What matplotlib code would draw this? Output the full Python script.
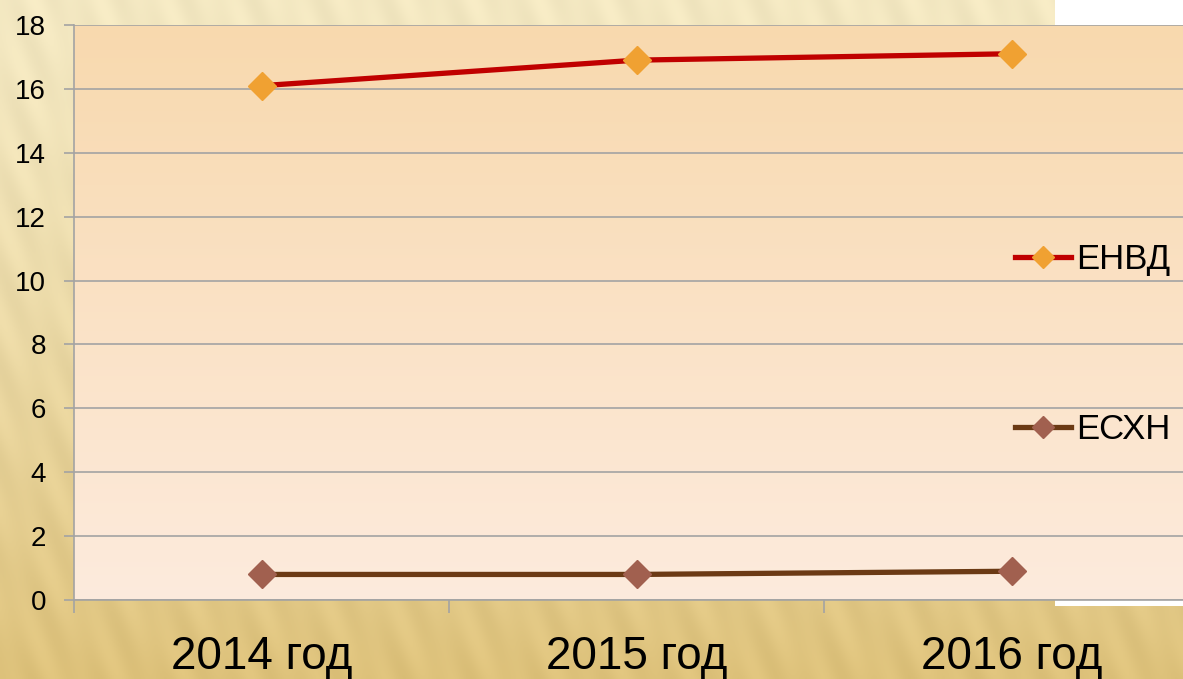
import numpy as np
import matplotlib.pyplot as plt
from matplotlib.colors import LinearSegmentedColormap
from matplotlib.patches import Rectangle

plt.rcParams['font.family'] = ['Liberation Sans', 'DejaVu Sans']

# data
years = ["2014 год", "2015 год", "2016 год"]
envd = [16.1, 16.9, 17.1]
eshn = [0.8, 0.8, 0.9]

W, H = 1183, 679
fig = plt.figure(figsize=(W / 100, H / 100), dpi=100)

# wood-like backdrop (deterministic stripes over a vertical gradient)
bg = fig.add_axes([0, 0, 1, 1], zorder=0)
yy, xx = np.mgrid[0:H:2, 0:W:2]
t = yy / H
stripes = 0.5 + 0.5 * np.sin((xx - 0.45 * yy) / 7.0) * np.sin((xx + 0.1 * yy) / 23.0)
top = np.array([0.975, 0.93, 0.78])
bot = np.array([0.89, 0.78, 0.50])
base = top[None, None, :] * (1 - t[..., None] ** 1.3) + bot[None, None, :] * (t[..., None] ** 1.3)
img = base - 0.04 * stripes[..., None]
bg.imshow(np.clip(img, 0, 1), aspect='auto', extent=[0, 1, 0, 1], origin='upper')
bg.set_xlim(0, 1)
bg.set_ylim(0, 1)
bg.axis('off')
# white chart background that peeks out at the right
bg.add_patch(Rectangle((1055 / W, 1 - 606 / H), 1 - 1055 / W, 606 / H,
                       facecolor='white', edgecolor='none', zorder=2))

left, bottom_y, top_y, right_x = 74, 600, 25, 1199
ax = fig.add_axes([left / W, 1 - bottom_y / H, (right_x - left) / W, (bottom_y - top_y) / H], zorder=1)
ax.set_facecolor('none')

# plot area gradient
grad = LinearSegmentedColormap.from_list('pa', ['#fdebdd', '#f8d9ae'])
ax.imshow(np.linspace(0, 1, 256)[::-1].reshape(-1, 1), cmap=grad, aspect='auto',
          extent=[0, 1, 0, 1], transform=ax.transAxes, zorder=0)

x = np.arange(len(years))
ax.plot(x, envd, color='#c00000', lw=3.8, marker='D', ms=14.5, mfc='#f0a132', mec='#f0a132',
        label='ЕНВД', zorder=4)
ax.plot(x, eshn, color='#6b3a14', lw=3.8, marker='D', ms=14.5, mfc='#a1604f', mec='#a1604f',
        label='ЕСХН', zorder=4)

ax.set_xlim(-0.5, 2.5)
ax.set_ylim(0, 18)
ax.set_yticks(np.arange(0, 19, 2))
ax.grid(axis='y', color='#a3a3a3', lw=1.2, zorder=1)
ax.set_axisbelow(True)

# category boundaries get the tick marks, the names sit in between
ax.set_xticks([-0.5, 0.5, 1.5, 2.5])
ax.set_xticklabels([])
ax.set_xticks(x, minor=True)
ax.set_xticklabels(years, minor=True, fontsize=33)
ax.tick_params(axis='x', which='minor', length=0, pad=25)
ax.tick_params(axis='x', which='major', length=9, width=1.2, color='#a3a3a3')
ax.tick_params(axis='y', length=7, width=1.2, color='#a3a3a3', labelsize=20, pad=13)

for s in ['top', 'right']:
    ax.spines[s].set_visible(False)
for s in ['left', 'bottom']:
    ax.spines[s].set_color('#a3a3a3')
    ax.spines[s].set_linewidth(1.2)

handles, labels = ax.get_legend_handles_labels()
fig.legend(handles, labels, loc='center left',
           bbox_to_anchor=(1015 / W, 1 - 344.5 / H), frameon=False,
           fontsize=25, labelspacing=3.95, handlelength=1.6, handletextpad=0.15,
           borderpad=0, borderaxespad=0, markerscale=0.75)

fig.savefig('out.png', dpi=100)
